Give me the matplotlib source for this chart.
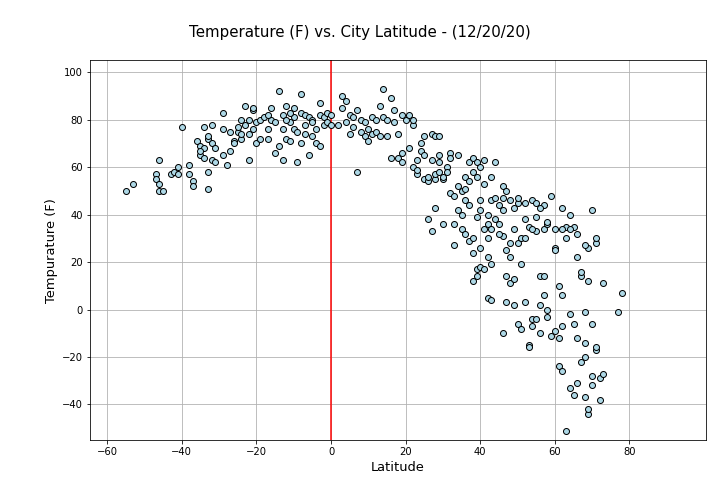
import matplotlib
matplotlib.use("Agg")
import matplotlib.pyplot as plt

lat = [-55,-53,-47,-47,-46,-46,-45,-46,-43,-42,-41,-41,-40,-38,-38,-37,-37,-36,-35,-35,-34,-34,-33,-33,-33,-32,-32,-32,-31,-31,-34,-35,-33,-29,-29,-29,-28,-27,-26,-25,-25,-24,-24,-23,-23,-22,-22,-21,-21,-21,-20,-20,-19,-18,-17,-17,-16,-16,-15,-15,-14,-14,-13,-13,-13,-12,-12,-11,-11,-10,-10,-10,-9,-9,-8,-8,-8,-7,-7,-6,-6,-5,-5,-4,-4,-3,-3,-3,-2,-2,-1,-1,0,0,-26,-27,-24,-22,-19,-17,-12,-11,-7,-5,
       2,3,3,4,4,5,5,6,6,7,7,8,8,9,9,10,10,11,11,12,12,13,13,14,14,15,15,16,16,17,17,18,18,19,19,19,20,21,21,22,22,22,23,23,23,24,24,25,25,25,26,26,26,27,27,27,28,28,28,28,29,29,29,29,30,30,30,31,31,32,32,32,33,33,33,34,34,34,35,35,35,36,36,36,36,37,37,37,37,38,38,38,38,38,39,39,39,39,39,40,40,40,40,40,41,41,41,41,42,42,42,42,42,43,43,43,43,43,44,44,45,45,46,46,46,46,47,47,47,47,48,48,48,48,49,49,49,49,50,50,50,51,51,51,52,52,53,53,53,54,54,54,55,55,55,56,56,56,57,57,57,57,58,58,58,59,59,60,60,60,61,61,61,62,62,62,62,63,63,63,64,64,64,65,65,65,66,66,66,67,67,67,68,68,68,68,69,69,69,69,70,70,70,70,71,71,71,71,72,72,73,73,77,78,44,46,50,52,55,58,60,62,64,66,68,56,54,52,45]
temp = [50,53,57,55,63,50,50,53,57,58,60,57,77,61,57,54,52,71,69,65,68,77,72,58,51,78,70,63,62,68,64,67,73,76,83,65,61,67,71,75,77,80,72,86,78,74,63,76,84,85,70,79,80,81,72,76,85,80,79,66,92,69,82,76,63,72,86,79,71,85,81,76,62,75,91,83,70,78,82,81,65,80,79,70,76,82,87,69,78,81,79,83,82,78,70,75,74,80,72,82,80,83,74,73,
        78,90,85,88,79,74,82,81,77,84,58,80,75,73,79,71,76,74,81,75,80,86,73,81,93,73,80,89,64,84,79,64,74,82,62,66,80,68,82,78,60,80,63,57,59,70,67,55,73,65,54,38,56,33,63,74,55,57,43,73,65,62,58,73,55,36,56,60,58,66,64,49,48,27,36,52,42,65,50,40,34,56,46,32,51,54,29,44,62,58,30,12,24,64,14,17,39,56,62,42,60,26,46,18,34,53,17,63,40,30,5,22,36,56,34,46,4,19,47,38,36,44,31,-10,52,42,25,3,14,50,28,11,46,22,13,2,43,34,-6,28,45,19,30,-8,45,3,35,-15,-16,-4,-7,46,39,33,-4,14,-10,2,6,14,44,34,36,-3,0,48,-11,-9,26,25,10,-12,-24,6,-26,-7,43,-51,35,30,-33,-2,40,35,-36,-6,-31,22,-12,14,-22,16,-14,-37,-20,-1,-44,-42,26,12,-32,-28,-6,42,-17,-16,28,30,-38,-29,-27,11,-1,7,62,47,47,38,45,37,34,34,34,32,27,43,34,30,32]

fig = plt.figure(figsize=(10, 7), dpi=72)
ax = fig.add_axes([0.125, 0.127, 0.855, 0.753])
ax.scatter(lat, temp, c="lightblue", edgecolors="black", s=36, zorder=3)
ax.axvline(0, color="red", zorder=2)
ax.set_xlim(-64.6, 100.4)
ax.set_xticks([-60, -40, -20, 0, 20, 40, 60, 80])
ax.set_ylim(-55, 105)
ax.grid(True, zorder=0)
ax.set_xlabel("Latitude", fontsize=13)
ax.set_ylabel("Tempurature (F)", fontsize=13)
fig.suptitle("Temperature (F) vs. City Latitude - (12/20/20)", fontsize=15, y=0.95)
fig.savefig("out.png", dpi=72)
